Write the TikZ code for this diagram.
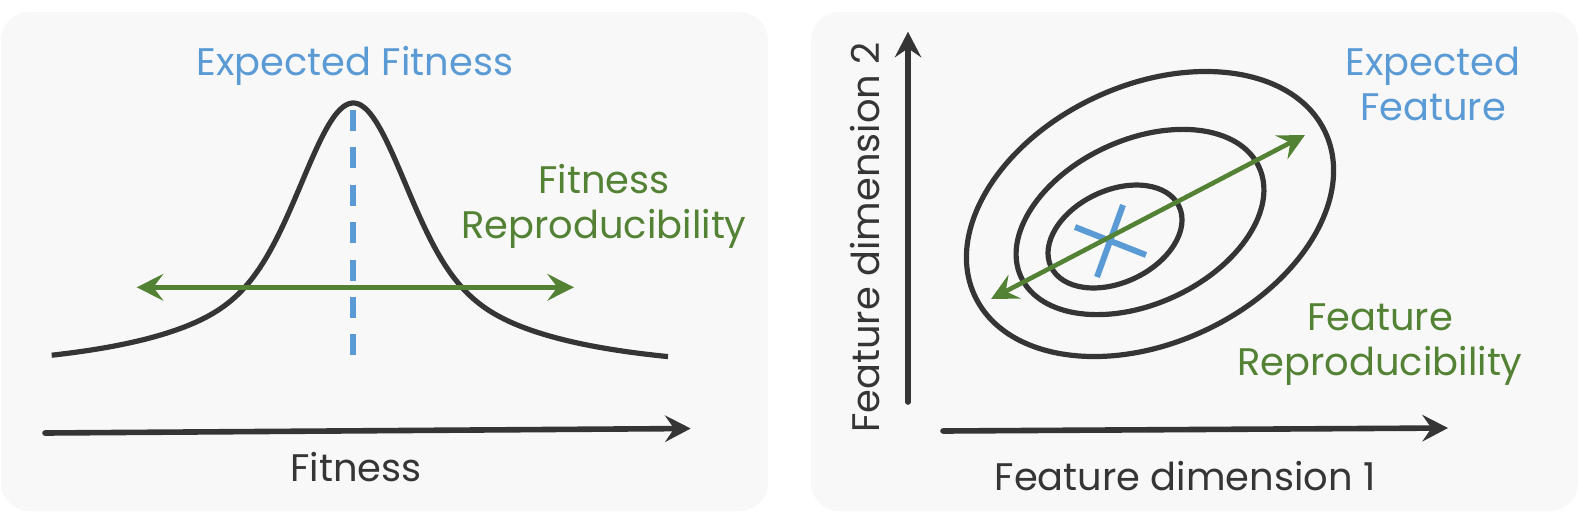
\documentclass[tikz,border=0pt]{standalone}
\usepackage{fontspec}
\setmainfont{Poppins}
\usetikzlibrary{arrows.meta}
\definecolor{panelbg}{HTML}{F8F8F8}
\definecolor{ink}{HTML}{353535}
\definecolor{bblue}{HTML}{5B9BD5}
\definecolor{bgreen}{HTML}{548235}
\begin{document}
\begin{tikzpicture}[x=0.5pt,y=-0.5pt,
  panel/.style={fill=panelbg, draw=none, rounded corners=14pt},
  lbl/.style={font=\fontsize{19.2}{22}\selectfont, inner sep=0pt, anchor=base},
  axisarrow/.style={draw=ink, line width=2.8pt, line cap=round, -{Stealth[length=12.8pt,width=13.2pt,inset=4.5pt]}},
  spread/.style={draw=bgreen, line width=2.3pt, {Stealth[length=13.3pt,width=13.3pt,inset=5pt]}-{Stealth[length=13.3pt,width=13.3pt,inset=5pt]}},
  contour/.style={draw=ink, line width=2.6pt},
  meanline/.style={draw=bblue, line width=3pt, dash pattern=on 10.5pt off 8.2pt},
  cross/.style={draw=bblue, line width=3pt}]
\useasboundingbox (0,0) rectangle (1578,526);
% panels
\fill[panel] (1,12) rectangle (768,511);
\fill[panel] (811,12) rectangle (1578,511);

% ---------- left panel ----------
\draw[contour, line join=round] plot[domain=51.7:668, samples=200, smooth]
  (\x, {375-137*exp(-(((\x-353.3)/68)^2))-135/(1+((\x-353.3)/125)^2)});
\coordinate (mtop) at (353.3,110);
\coordinate (mbot) at (353.3,355);
\draw[meanline] (mtop) -- (mbot);
\coordinate (fl) at (136.7,287.3);
\coordinate (fr) at (574,287.3);
\draw[spread] (fl) -- (fr);
\coordinate (fa0) at (45,433);
\coordinate (fa1) at (690.7,428.5);
\draw[axisarrow] (fa0) -- (fa1);

\node[lbl, text=bblue] (expfit) at (355,75) {Expected Fitness};
\node[lbl, text=bgreen] (fitrep1) at (604,193) {Fitness};
\node[lbl, text=bgreen] (fitrep2) at (604,238) {Reproducibility};
\node[lbl, text=ink] (fitaxis) at (356,481) {Fitness};

% ---------- right panel ----------
\draw[contour, rotate around={25:(1150,214)}] (1150,214) ellipse [x radius=193.4, y radius=128.8];
\draw[contour, rotate around={24.8:(1140,222)}] (1140,222) ellipse [x radius=131.1, y radius=82.1];
\draw[contour, rotate around={25.2:(1115,236.5)}] (1115,236.5) ellipse [x radius=70.8, y radius=46.1];

\coordinate (x1a) at (1123,205);
\coordinate (x1b) at (1097,277);
\coordinate (x2a) at (1075,227);
\coordinate (x2b) at (1146,255);
\draw[cross] (x1a) -- (x1b);
\draw[cross] (x2a) -- (x2b);

\coordinate (gl) at (991,299);
\coordinate (gr) at (1305,135);
\draw[spread] (gl) -- (gr);

\coordinate (va0) at (908,402);
\coordinate (va1) at (908,31.7);
\draw[axisarrow] (va0) -- (va1);
\coordinate (ha0) at (943,431);
\coordinate (ha1) at (1448,428);
\draw[axisarrow] (ha0) -- (ha1);

\node[lbl, text=ink, rotate=90] (fd2) at (879,237.5) {Feature dimension 2};
\node[lbl, text=ink] (fd1) at (1185,490) {Feature dimension 1};
\node[lbl, text=bblue] (expfeat1) at (1433,75) {Expected};
\node[lbl, text=bblue] (expfeat2) at (1433,120) {Feature};
\node[lbl, text=bgreen] (featrep1) at (1380,330) {Feature};
\node[lbl, text=bgreen] (featrep2) at (1380,375) {Reproducibility};
\end{tikzpicture}
\end{document}
